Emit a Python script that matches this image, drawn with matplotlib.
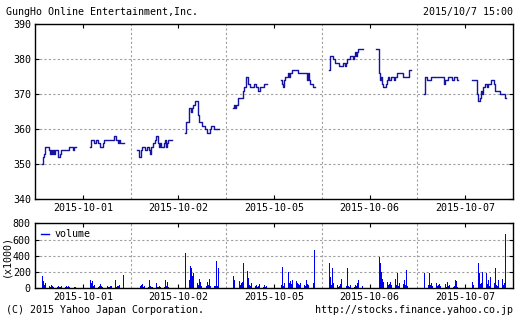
import numpy as np
import matplotlib
matplotlib.use("Agg")
import matplotlib.pyplot as plt
from matplotlib.lines import Line2D
from matplotlib.ticker import FixedLocator

plt.rcParams["font.family"] = ["DejaVu Sans Mono"]
plt.rcParams["font.size"] = 7.2

days = ["2015-10-01", "2015-10-02", "2015-10-05", "2015-10-06", "2015-10-07"]

# 5分足の終値 (前場 9:00-11:30 / 後場 12:30-15:00, 各30本)
p1001_am = [350, 352, 353, 355, 355, 355, 354, 353, 354, 353, 354, 353, 354, 354, 352,
            352, 353, 354, 354, 354, 354, 354, 354, 354, 355, 355, 355, 354, 355, 355]
p1001_pm = [355, 357, 357, 357, 356, 356, 357, 356, 356, 355, 355, 355, 356, 357, 357,
            357, 357, 357, 357, 357, 357, 358, 358, 357, 357, 356, 357, 356, 356, 356]
p1002_am = [354, 352, 352, 354, 355, 355, 355, 354, 355, 355, 354, 353, 355, 355, 356,
            357, 358, 358, 356, 355, 356, 355, 355, 356, 357, 355, 356, 357, 357, 357]
p1002_pm = [359, 362, 362, 366, 366, 365, 366, 367, 367, 368, 368, 364, 362, 362, 362,
            361, 361, 360, 360, 359, 359, 359, 360, 361, 361, 360, 360, 360, 360, 360]
p1005_am = [366, 367, 366, 367, 369, 369, 369, 369, 369, 371, 372, 375, 375, 373, 373,
            372, 372, 372, 373, 373, 372, 372, 371, 371, 372, 372, 372, 373, 373, 373]
p1005_pm = [374, 373, 372, 374, 375, 375, 376, 375, 376, 376, 377, 377, 377, 377, 377,
            376, 376, 376, 376, 376, 376, 376, 376, 374, 376, 374, 373, 373, 372, 372]
p1006_am = [377, 381, 381, 381, 380, 380, 379, 379, 379, 378, 378, 378, 378, 379, 378,
            379, 380, 380, 380, 381, 381, 380, 381, 382, 381, 382, 383, 383, 383, 383]
p1006_pm = [383, 383, 376, 374, 375, 373, 372, 372, 373, 374, 375, 374, 374, 375, 375,
            374, 375, 375, 376, 376, 376, 376, 376, 375, 375, 375, 375, 375, 375, 377]
p1007_am = [370, 375, 374, 374, 374, 374, 375, 375, 375, 375, 375, 375, 375, 375, 375,
            375, 375, 373, 374, 374, 374, 375, 375, 375, 374, 374, 375, 375, 375, 374]
p1007_pm = [374, 374, 374, 374, 370, 368, 368, 369, 371, 370, 372, 373, 373, 372, 373,
            373, 373, 374, 374, 373, 371, 371, 371, 371, 371, 370, 370, 370, 370, 369]

# 出来高 (千株)
v1001_am = [152, 90, 40, 70, 300, 94, 30, 20, 35, 25, 20, 15, 30, 20, 25,
            15, 20, 30, 25, 20, 15, 25, 20, 30, 15, 20, 40, 164, 20, 10]
v1001_pm = [102, 60, 94, 30, 40, 90, 78, 20, 30, 50, 25, 20, 15, 30, 20,
            25, 15, 20, 25, 30, 20, 15, 102, 20, 25, 30, 40, 82, 50, 164]
v1002_am = [102, 82, 30, 40, 53, 20, 30, 15, 25, 20, 102, 30, 20, 15, 25,
            82, 61, 20, 15, 25, 20, 30, 15, 20, 102, 30, 82, 20, 15, 20]
v1002_pm = [439, 234, 60, 100, 275, 254, 152, 193, 80, 90, 60, 40, 110, 82, 30,
            40, 20, 100, 30, 82, 40, 110, 30, 123, 20, 30, 25, 336, 30, 254]
v1005_am = [150, 100, 60, 140, 50, 90, 40, 60, 80, 307, 120, 217, 210, 130, 40,
            30, 60, 20, 80, 30, 40, 20, 30, 50, 20, 30, 15, 40, 20, 30]
v1005_pm = [40, 266, 30, 60, 40, 80, 205, 60, 90, 50, 100, 100, 40, 90, 70,
            50, 40, 60, 30, 205, 40, 30, 100, 50, 40, 60, 164, 40, 60, 470]
v1006_am = [307, 144, 40, 246, 60, 100, 30, 40, 20, 30, 50, 120, 30, 20, 40,
            30, 246, 30, 20, 40, 30, 50, 20, 40, 30, 60, 100, 40, 20, 30]
v1006_pm = [144, 150, 390, 307, 205, 120, 80, 100, 60, 80, 40, 50, 80, 40, 30,
            60, 120, 40, 184, 30, 60, 40, 30, 50, 100, 40, 225, 30, 60, 460]
v1007_am = [185, 164, 30, 40, 193, 40, 60, 30, 50, 40, 60, 30, 40, 50, 30,
            40, 20, 30, 50, 20, 82, 30, 40, 20, 30, 20, 30, 100, 94, 20]
v1007_pm = [82, 40, 70, 30, 369, 308, 185, 50, 60, 197, 120, 40, 193, 50, 100,
            30, 140, 185, 40, 60, 246, 40, 30, 100, 40, 246, 120, 40, 60, 668]

sessions = [
    (0, 9.0, p1001_am, v1001_am), (0, 12.5, p1001_pm, v1001_pm),
    (1, 9.0, p1002_am, v1002_am), (1, 12.5, p1002_pm, v1002_pm),
    (2, 9.0, p1005_am, v1005_am), (2, 12.5, p1005_pm, v1005_pm),
    (3, 9.0, p1006_am, v1006_am), (3, 12.5, p1006_pm, v1006_pm),
    (4, 9.0, p1007_am, v1007_am), (4, 12.5, p1007_pm, v1007_pm),
]

# 1日 = 8:30-15:30 を幅1として並べる
def to_x(day, hour):
    return day + (hour - 8.5) / 7.0

bin_w = (5 / 60) / 7.0
line_c = "#1414a0"
bar_c = "#0000f0"
grid_kw = dict(color="#a0a0a0", linestyle=(0, (2, 2)), linewidth=0.8)

fig = plt.figure(figsize=(5.21, 3.20), dpi=100)
ax = fig.add_axes([35 / 521, 1 - 199 / 320, 478 / 521, 175 / 320])
axv = fig.add_axes([35 / 521, 1 - 288.3 / 320, 478 / 521, 65 / 320])

for day, start, price, vol in sessions:
    n = len(price)
    xs = to_x(day, start + np.arange(n + 1) * 5 / 60)
    ys = list(price) + [price[-1]]
    ax.step(xs, ys, where="post", color=line_c, linewidth=1.0)
    axv.bar(xs[:-1] + bin_w / 2, vol, width=bin_w * 0.6, color=bar_c, linewidth=0)

mid = [d + 0.5 for d in range(len(days))]
bounds = [1, 2, 3, 4]

for a in (ax, axv):
    a.set_xlim(0, 5)
    a.set_xticks(mid)
    a.set_xticklabels(days)
    a.xaxis.set_minor_locator(FixedLocator(bounds))
    a.grid(True, which="minor", axis="x", **grid_kw)
    a.grid(True, which="major", axis="y", **grid_kw)
    a.tick_params(which="major", direction="in", length=3, width=0.8,
                  top=True, right=True, labelsize=7.2, pad=3)
    a.tick_params(which="minor", length=0)
    for s in a.spines.values():
        s.set_linewidth(1.0)
    a.set_axisbelow(True)

ax.set_ylim(340, 390)
ax.set_yticks(np.arange(340, 391, 10))

axv.set_ylim(0, 800)
axv.set_yticks([0, 200, 400, 600, 800])
axv.set_ylabel("(x1000)", fontsize=7.2, labelpad=1)
axv.legend(handles=[Line2D([], [], color=bar_c, linewidth=1)], labels=["volume"],
           loc="upper left", frameon=False, handlelength=0.8, handletextpad=0.6,
           borderaxespad=0.2, fontsize=7.2)

fig.text(6 / 521, 1 - 12 / 320, "GungHo Online Entertainment,Inc.", va="center", ha="left")
fig.text(513 / 521, 1 - 12 / 320, "2015/10/7 15:00", va="center", ha="right")
fig.text(6 / 521, 1 - 310 / 320, "(C) 2015 Yahoo Japan Corporation.", va="center", ha="left")
fig.text(513 / 521, 1 - 310 / 320, "http://stocks.finance.yahoo.co.jp", va="center", ha="right")

fig.savefig("out.png", dpi=100)
